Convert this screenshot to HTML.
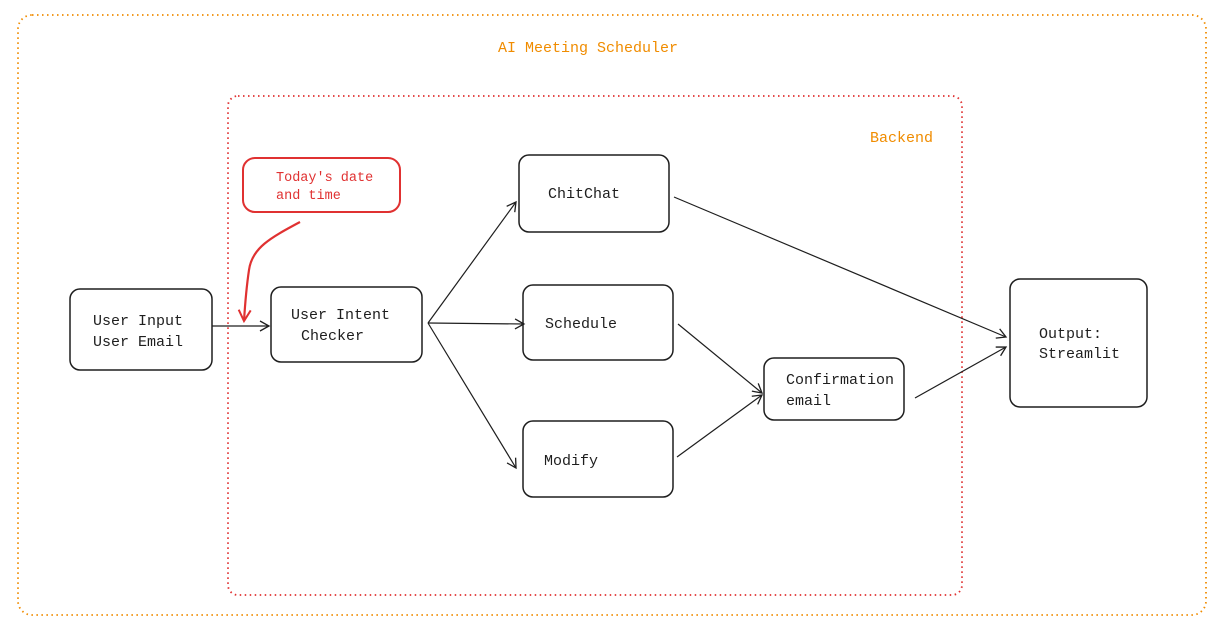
<!DOCTYPE html>
<html><head><meta charset="utf-8"><style>
html,body{margin:0;padding:0;background:#fff;}
svg text{font-family:"Liberation Mono",monospace;font-size:15px;fill:#1e1e1e;}
</style></head><body>
<svg width="1223" height="636" viewBox="0 0 1223 636" xmlns="http://www.w3.org/2000/svg">
<defs>
<marker id="a" markerWidth="12" markerHeight="12" refX="10" refY="6" orient="auto" markerUnits="userSpaceOnUse">
<path d="M1,1 L10,6 L1,11" fill="none" stroke="#1e1e1e" stroke-width="1.3"/></marker>
<marker id="r" markerWidth="14" markerHeight="14" refX="12" refY="7" orient="auto" markerUnits="userSpaceOnUse">
<path d="M1,1 L12,7 L1,13" fill="none" stroke="#e03131" stroke-width="2"/></marker>
</defs>
<rect x="18" y="15" width="1188" height="600" rx="14" fill="none" stroke="#f08c00" stroke-width="1.8" stroke-dasharray="1.5 3.5"/>
<text x="498" y="52" style="fill:#f08c00;font-size:15px">AI Meeting Scheduler</text>
<rect x="228" y="96" width="734" height="499" rx="10" fill="none" stroke="#e03131" stroke-width="1.8" stroke-dasharray="1.5 3.5"/>
<text x="870" y="142" style="fill:#f08c00;font-size:15px">Backend</text>

<g fill="none" stroke="#1e1e1e" stroke-width="1.5">
<rect x="70" y="289" width="142" height="81" rx="10"/>
<rect x="271" y="287" width="151" height="75" rx="10"/>
<rect x="519" y="155" width="150" height="77" rx="10"/>
<rect x="523" y="285" width="150" height="75" rx="10"/>
<rect x="523" y="421" width="150" height="76" rx="10"/>
<rect x="764" y="358" width="140" height="62" rx="10"/>
<rect x="1010" y="279" width="137" height="128" rx="10"/>
</g>
<rect x="243" y="158" width="157" height="54" rx="12" fill="none" stroke="#e03131" stroke-width="2"/>

<text x="93" y="325">User Input</text>
<text x="93" y="346">User Email</text>
<text x="291" y="319">User Intent</text>
<text x="301" y="340">Checker</text>
<text x="548" y="198">ChitChat</text>
<text x="545" y="328">Schedule</text>
<text x="544" y="465">Modify</text>
<text x="786" y="384">Confirmation</text>
<text x="786" y="405">email</text>
<text x="1039" y="338">Output:</text>
<text x="1039" y="358">Streamlit</text>
<text x="276" y="181" style="fill:#e03131;font-size:13.5px">Today's date</text>
<text x="276" y="199" style="fill:#e03131;font-size:13.5px">and time</text>

<g fill="none" stroke="#1e1e1e" stroke-width="1.2" marker-end="url(#a)">
<path d="M212,326 L269,326"/>
<path d="M428,323 L516,202"/>
<path d="M428,323 L524,324"/>
<path d="M428,323 L516,468"/>
<path d="M674,197 L1006,337"/>
<path d="M678,324 L762,393"/>
<path d="M677,457 L762,395"/>
<path d="M915,398 L1006,347"/>
</g>
<path d="M300,222 C270,238 252,248 249,270 C246,290 245,305 244,321" fill="none" stroke="#e03131" stroke-width="2.2" marker-end="url(#r)"/>
</svg>
</body></html>
